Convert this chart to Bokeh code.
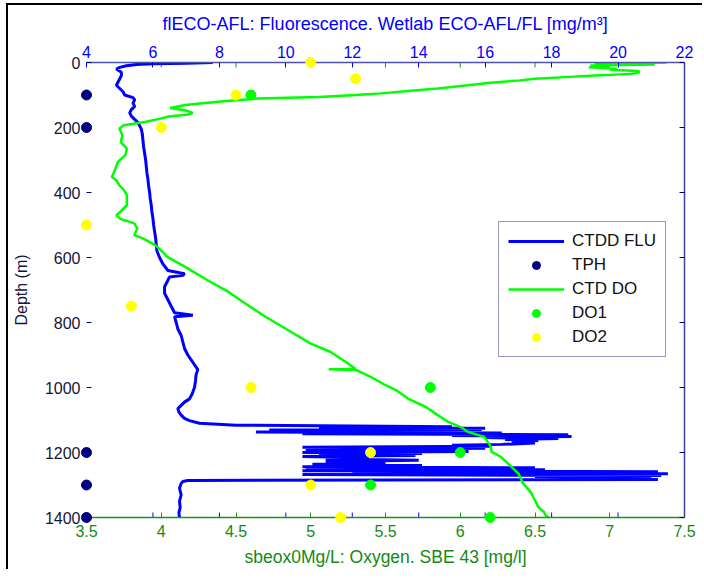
import math
from bokeh.plotting import figure
from bokeh.models import Range1d, LinearAxis, Legend, LegendItem, FixedTicker, CustomJSTickFormatter
from bokeh.embed import file_html
from bokeh.resources import INLINE

# ---------------- data ----------------
# CTDD FLU : fluorescence [mg/m3] (top axis) versus depth [m]
flu_depth = [0, 2, 4, 6, 10, 15, 20, 30, 40, 50, 60, 70, 80, 90, 100, 108, 115, 125, 135, 145,
             155, 165, 175, 185, 195, 205, 220, 240, 260, 280, 300, 320, 340, 360, 380, 400,
             420, 440, 460, 480, 500, 520, 540, 560, 580, 600, 620, 640, 650, 655, 660, 670,
             690, 710, 730, 750, 770, 778, 782, 800, 820, 840, 860, 880, 900, 915, 930, 945,
             960, 980, 1000, 1020, 1035, 1045, 1055, 1065, 1075, 1085, 1095, 1102, 1110, 1116,
             1119, 1121, 1123, 1125, 1127, 1129, 1131, 1134, 1137, 1140, 1142, 1145, 1148, 1151,
             1154, 1157, 1160, 1163, 1167, 1171, 1175, 1178, 1181, 1184, 1187, 1190, 1194, 1197,
             1200, 1203, 1206, 1209, 1212, 1216, 1220, 1224, 1228, 1232, 1236, 1240, 1244, 1247,
             1250, 1253, 1256, 1259, 1262, 1265, 1268, 1271, 1274, 1277, 1280, 1283, 1286, 1289,
             1295, 1310, 1330, 1350, 1370, 1385, 1400]
flu_value = [7.8, 7.0, 6.0, 5.5, 5.2, 5.0, 4.9, 5.05, 5.05, 5.0, 4.95, 4.9, 5.0, 5.1, 5.15, 5.4, 5.45, 5.4, 5.45, 5.35,
             5.3, 5.35, 5.45, 5.55, 5.6, 5.65, 5.68, 5.7, 5.72, 5.75, 5.78, 5.8, 5.82, 5.85, 5.87, 5.9,
             5.92, 5.95, 5.97, 6.0, 6.02, 6.05, 6.08, 6.1, 6.12, 6.2, 6.3, 6.45, 6.95, 6.9, 6.5, 6.45,
             6.35, 6.35, 6.45, 6.55, 6.65, 7.2, 6.65, 6.7, 6.75, 6.85, 6.9, 6.95, 7.05, 7.15, 7.25, 7.35,
             7.3, 7.28, 7.25, 7.18, 7.1, 6.95, 6.85, 6.75, 6.78, 6.85, 6.95, 7.1, 7.4, 8.5,
             13.0, 15.0, 12.5, 16.0, 11.0, 15.9, 9.5, 14.0, 9.1, 16.5, 10.5, 18.5, 15.0, 18.6,
             16.0, 18.2, 16.6, 17.6, 16.8, 17.5, 16.5, 15.0, 16.2, 10.5, 16.0, 12.0, 10.6, 15.5,
             10.5, 14.1, 11.0, 13.9, 10.5, 12.5, 11.2, 14.0, 11.2, 13.0, 10.8, 14.1, 10.5, 17.5,
             10.6, 17.8, 10.5, 21.2, 12.0, 21.5, 10.5, 21.3, 17.5, 21.0, 17.6, 21.2, 7.05, 6.9,
             6.85, 6.8, 6.85, 6.8, 6.82, 6.78, 6.8]

# CTD DO : oxygen [mg/l] (bottom axis) versus depth [m]
do_depth = [0, 3, 6, 9, 12, 15, 19, 22, 26, 30, 35, 40, 45, 50, 55, 62, 70, 80, 88, 95,
            100, 106, 111, 116, 121, 131, 140, 147, 155, 160, 166, 172, 183, 193, 203, 224, 245,
            265, 285, 306, 331, 352, 362, 378, 392, 408, 439, 462, 470, 482, 495, 511, 531, 542,
            562, 583, 598, 629, 670, 706, 741, 783, 824, 865, 890, 926, 943, 944, 946, 947, 967,
            993, 1008, 1034, 1060, 1085, 1106, 1121, 1136, 1152, 1178, 1198, 1213, 1234, 1265,
            1295, 1321, 1347, 1367, 1383, 1393, 1400]
do_value = [7.38, 6.9, 7.3, 6.87, 7.0, 6.86, 7.05, 7.0, 7.19, 7.2, 7.15, 6.9, 6.7, 6.5, 6.4, 6.2, 6.05, 5.85, 5.65, 5.47,
            5.3, 5.05, 4.64, 4.5, 4.38, 4.16, 4.06, 4.16, 4.21, 4.18, 4.05, 4.0, 3.89, 3.75, 3.72, 3.74, 3.73,
            3.77, 3.76, 3.71, 3.69, 3.67, 3.7, 3.72, 3.75, 3.77, 3.77, 3.72, 3.7, 3.73, 3.82, 3.84, 3.82, 3.88,
            3.96, 4.01, 4.04, 4.16, 4.31, 4.45, 4.56, 4.70, 4.85, 5.0, 5.13, 5.25, 5.3, 5.12, 5.3, 5.31, 5.4,
            5.5, 5.57, 5.65, 5.77, 5.85, 5.92, 6.0, 6.05, 6.16, 6.2, 6.21, 6.27, 6.32, 6.39,
            6.42, 6.47, 6.5, 6.52, 6.56, 6.57, 6.59]

# TPH sample depths (drawn at the left edge of the axes)
tph_depth = [100, 200, 1200, 1300, 1400]
tph_value = [3.5, 3.5, 3.5, 3.5, 3.5]

# DO1 / DO2 bottle samples [mg/l]
do1_depth = [100, 1000, 1200, 1300, 1400]
do1_value = [4.6, 5.8, 6.0, 5.4, 6.2]
do2_depth = [0, 50, 100, 200, 500, 750, 1000, 1200, 1300, 1400]
do2_value = [5.0, 5.3, 4.5, 4.0, 3.5, 3.8, 4.6, 5.4, 5.0, 5.2]

# axis ticks
depth_ticks = [0, 200, 400, 600, 800, 1000, 1200, 1400]
flu_ticks = [4, 6, 8, 10, 12, 14, 16, 18, 20, 22]
ox_ticks = [3.5, 4, 4.5, 5, 5.5, 6, 6.5, 7, 7.5]

# ---------------- styling ----------------
FONT = "Liberation Sans"
BLUE = "#0000ff"
BLUE_AX = "#5050b0"
GREEN_TXT = "#138a13"
GREEN_AX = "#1f8f1f"
NAVY = "#000080"
NAVY_TXT = "#14143c"
LIME = "#00ff00"
YELLOW = "#ffff00"

p = figure(width=696, height=566,
           x_range=Range1d(ox_ticks[0], ox_ticks[-1]),
           y_range=Range1d(depth_ticks[-1], depth_ticks[0]),
           output_backend="svg", toolbar_location=None,
           min_border_left=78, min_border_right=20, min_border_top=57, min_border_bottom=54)
p.extra_x_ranges = {"flu": Range1d(flu_ticks[0], flu_ticks[-1])}
p.grid.visible = False
p.outline_line_color = None
p.background_fill_color = "white"
p.border_fill_color = "white"
p.styles = {"border-left": "2px solid black", "border-top": "2px solid black",
            "margin-left": "6px", "margin-top": "3px"}

# bottom (oxygen) axis
xa = p.xaxis[0]
xa.ticker = FixedTicker(ticks=ox_ticks)
xa.axis_line_color = GREEN_AX
xa.axis_line_width = 1.5
xa.major_tick_line_color = GREEN_AX
xa.major_tick_in = 5
xa.major_tick_out = 0
xa.minor_tick_line_color = None
xa.major_label_text_color = GREEN_TXT
xa.major_label_text_font = FONT
xa.major_label_text_font_size = "16px"
xa.major_label_standoff = 7
xa.axis_label = "sbeox0Mg/L: Oxygen. SBE 43 [mg/l]"
xa.axis_label_text_color = GREEN_TXT
xa.axis_label_text_font = FONT
xa.axis_label_text_font_size = "17.5px"
xa.axis_label_text_font_style = "normal"
xa.axis_label_standoff = 7

# left (depth) axis
ya = p.yaxis[0]
ya.ticker = FixedTicker(ticks=depth_ticks)
ya.axis_line_color = None
ya.major_tick_line_color = NAVY
ya.major_tick_in = 5
ya.major_tick_out = 0
ya.minor_tick_line_color = None
ya.major_label_text_color = NAVY_TXT
ya.major_label_text_font = FONT
ya.major_label_text_font_size = "16px"
ya.major_label_standoff = 6
ya.axis_label = "Depth (m)"
ya.axis_label_text_color = NAVY_TXT
ya.axis_label_text_font = FONT
ya.axis_label_text_font_size = "16px"
ya.axis_label_text_font_style = "normal"
ya.axis_label_standoff = 12

# top (fluorescence) axis
ta = LinearAxis(x_range_name="flu", ticker=FixedTicker(ticks=flu_ticks),
                axis_line_color=BLUE_AX, axis_line_width=1.5,
                major_tick_line_color=BLUE, major_tick_in=5, major_tick_out=0,
                minor_tick_line_color=None,
                major_label_text_color=BLUE, major_label_text_font=FONT,
                major_label_text_font_size="16px", major_label_standoff=5,
                axis_label="flECO-AFL: Fluorescence. Wetlab ECO-AFL/FL [mg/m³]",
                axis_label_text_color=BLUE, axis_label_text_font=FONT,
                axis_label_text_font_size="18px", axis_label_text_font_style="normal",
                axis_label_standoff=9)
p.add_layout(ta, "above")

# right axis: ticks only (box side)
ra = LinearAxis(ticker=FixedTicker(ticks=depth_ticks),
                axis_line_color="#42429a", axis_line_width=1.5,
                major_tick_line_color=NAVY, major_tick_in=5, major_tick_out=0,
                minor_tick_line_color=None,
                formatter=CustomJSTickFormatter(code="return ''"),
                major_label_standoff=0)
p.add_layout(ra, "right")

# mirrored tick marks (MATLAB box): blue ticks on bottom, green ticks on top
p.scatter(x=flu_ticks[1:-1], y=[depth_ticks[-1]] * (len(flu_ticks) - 2), x_range_name="flu",
          marker="dash", angle=math.pi / 2, size=10, line_color=BLUE, line_width=1)
p.scatter(x=ox_ticks[1:-1], y=[depth_ticks[0]] * (len(ox_ticks) - 2),
          marker="dash", angle=math.pi / 2, size=10, line_color=GREEN_AX, line_width=1)

# profiles
r_flu = p.line(flu_value, flu_depth, x_range_name="flu", line_color=BLUE, line_width=3)
r_do = p.line(do_value, do_depth, line_color=LIME, line_width=2.5)

# samples
r_tph = p.scatter(tph_value, tph_depth, marker="circle", size=10,
                  fill_color=NAVY, line_color=NAVY, level="annotation")
r_do1 = p.scatter(do1_value, do1_depth, marker="circle", size=10,
                  fill_color=LIME, line_color=LIME, level="annotation")
r_do2 = p.scatter(do2_value, do2_depth, marker="circle", size=10,
                  fill_color=YELLOW, line_color=YELLOW, level="annotation")

legend = Legend(items=[
    LegendItem(label="CTDD FLU", renderers=[r_flu]),
    LegendItem(label="TPH", renderers=[r_tph]),
    LegendItem(label="CTD DO", renderers=[r_do]),
    LegendItem(label="DO1", renderers=[r_do1]),
    LegendItem(label="DO2", renderers=[r_do2]),
], location=(412, 160))
legend.border_line_color = "#303080"
legend.border_line_width = 1.5
legend.background_fill_color = "white"
legend.background_fill_alpha = 1
legend.label_text_font = FONT
legend.label_text_font_size = "17px"
legend.label_text_color = "#111111"
legend.glyph_width = 56
legend.glyph_height = 20
legend.label_height = 20
legend.label_standoff = 8
legend.padding = 9
legend.spacing = 4
legend.margin = 0
p.add_layout(legend)

open("out.html", "w").write(file_html(p, INLINE))
